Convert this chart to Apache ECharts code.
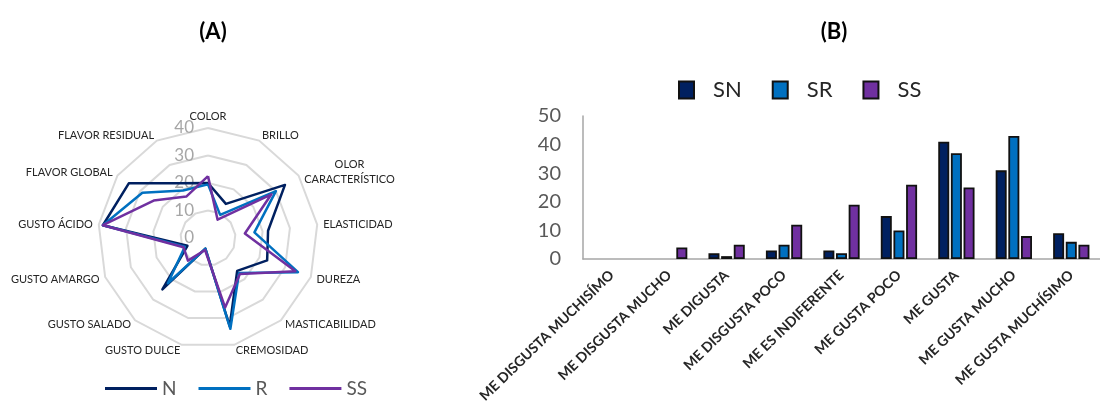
<!DOCTYPE html>
<html><head><meta charset="utf-8">
<script src="https://cdn.jsdelivr.net/npm/echarts@6/dist/echarts.min.js"></script>
<style>html,body{margin:0;padding:0;background:#fff}#c{width:1100px;height:406px}</style>
</head><body><div id="c"></div>
<script>
// ---- Radar (A) data, clockwise from top ----
const radarAttributes = ['COLOR','BRILLO','OLOR\nCARACTERÍSTICO','ELASTICIDAD','DUREZA','MASTICABILIDAD','CREMOSIDAD','GUSTO DULCE','GUSTO SALADO','GUSTO AMARGO','GUSTO ÁCIDO','FLAVOR GLOBAL','FLAVOR RESIDUAL'];
const radarN  = [20, 14, 34, 22, 23, 16, 33, 4, 25, 8, 38.5, 35, 22.5];
const radarR  = [19.5, 9.5, 30, 17, 35, 17, 34, 4, 22, 9, 38.5, 29, 19.5];
const radarSS = [22.5, 7.5, 28, 13.5, 34, 17.5, 26, 4.5, 11, 9.5, 38.5, 24, 17];
const radarTicks = [0, 10, 20, 30, 40];
const radarSeriesNames = ['N','R','SS'];

// ---- Bar (B) data ----
const barCategories = ['ME DISGUSTA MUCHISÍMO','ME DISGUSTA MUCHO','ME DIGUSTA','ME DISGUSTA POCO','ME ES INDIFERENTE','ME GUSTA POCO','ME GUSTA','ME GUSTA MUCHO','ME GUSTA MUCHÍSIMO'];
const barSN = [0, 0, 2, 3, 3, 15, 41, 31, 9];
const barSR = [0, 0, 1, 5, 2, 10, 37, 43, 6];
const barSS = [0, 4, 5, 12, 19, 26, 25, 8, 5];
const barTicks = [0, 10, 20, 30, 40, 50];
const barSeriesNames = ['SN','SR','SS'];

const C1 = '#002060', C2 = '#0070C0', C3 = '#7030A0';
const FONT = 'Lato, "Open Sans", sans-serif';

// ECharts radar runs counter-clockwise; reorder to get clockwise layout
const cw = a => [a[0]].concat(a.slice(1).reverse());
// zero-count bars are not drawn in the reference
const noZero = a => a.map(v => (v === 0 ? null : v));
const rMax = radarTicks[radarTicks.length - 1];
const bMax = barTicks[barTicks.length - 1];
const bStep = barTicks[1] - barTicks[0];
const rStep = radarTicks[1] - radarTicks[0];

const chart = echarts.init(document.getElementById('c'), null, {renderer: 'canvas'});
chart.setOption({
  backgroundColor: '#fff',
  animation: false,
  textStyle: {fontFamily: FONT},
  title: [
    {text: '(A)', left: 208, top: 16, textAlign: 'center', textStyle: {fontSize: 22, fontWeight: 'bold', color: '#000', fontFamily: FONT}},
    {text: '(B)', left: 829, top: 16, textAlign: 'center', textStyle: {fontSize: 22, fontWeight: 'bold', color: '#000', fontFamily: FONT}}
  ],
  legend: [
    {data: radarSeriesNames, left: 100, top: 374, icon: 'rect', itemWidth: 52, itemHeight: 3, itemGap: 22,
     textStyle: {fontSize: 19, color: '#595959', fontFamily: FONT, padding: [0, 0, 0, 0]}},
    {data: barSeriesNames.map((n, i) => i === 2 ? n + ' ' : n), left: 673, top: 74, icon: 'rect', itemWidth: 15, itemHeight: 17, itemGap: 30,
     textStyle: {fontSize: 22, color: '#262626', fontFamily: FONT, padding: [0, 0, 0, 14]}}
  ],
  radar: {
    center: [208, 238], radius: 110, startAngle: 90, shape: 'polygon', splitNumber: 4,
    indicator: cw(radarAttributes).map(n => ({name: n, min: 0, max: rMax})),
    axisName: {color: '#262626', fontSize: 11, fontFamily: FONT,
      formatter: n => n.indexOf('\n') < 0 ? n : n.split('\n').map(l => '{c|' + l + '}').join('\n'),
      rich: {c: {width: 92, align: 'center', fontSize: 11, lineHeight: 15, color: '#262626', fontFamily: FONT}}},
    nameGap: 6,
    splitLine: {lineStyle: {color: '#d9d9d9', width: 2}},
    splitArea: {show: false},
    axisLine: {show: false},
    axisTick: {show: false},
    axisLabel: {show: false}
  },
  polar: {center: [208, 238], radius: 110},
  angleAxis: {show: false, startAngle: 90, min: 0, max: 360, type: 'value'},
  radiusAxis: {type: 'value', min: 0, max: rMax, interval: rStep,
    axisLine: {show: false}, axisTick: {show: false}, splitLine: {show: false},
    axisLabel: {color: '#a6a6a6', fontSize: 17, fontFamily: FONT, margin: 14}},
  grid: {left: 583, top: 116, width: 525, height: 143, containLabel: false},
  xAxis: {type: 'category', data: barCategories,
    axisLine: {lineStyle: {color: '#a6a6a6', width: 1.5}}, axisTick: {show: false},
    axisLabel: {interval: 0, rotate: 44, fontSize: 14, fontWeight: 'bold', color: '#262626', fontFamily: FONT, margin: 14}},
  yAxis: {type: 'value', min: 0, max: bMax, interval: bStep,
    axisLine: {show: true, lineStyle: {color: '#a6a6a6', width: 1.5}}, axisTick: {show: false}, splitLine: {show: false},
    axisLabel: {fontSize: 20, color: '#595959', fontFamily: FONT, margin: 22}},
  series: [
    {type: 'radar', symbol: 'none', z: 3,
     data: [
       {name: radarSeriesNames[0], value: cw(radarN), lineStyle: {color: C1, width: 2.5}, itemStyle: {color: C1}},
       {name: radarSeriesNames[1], value: cw(radarR), lineStyle: {color: C2, width: 2.5}, itemStyle: {color: C2}},
       {name: radarSeriesNames[2], value: cw(radarSS), lineStyle: {color: C3, width: 2.5}, itemStyle: {color: C3}}
     ]},
    {type: 'bar', name: barSeriesNames[0], data: noZero(barSN), barWidth: 11, barGap: '15%',
     itemStyle: {color: C1, borderColor: '#111', borderWidth: 1.8}},
    {type: 'bar', name: barSeriesNames[1], data: noZero(barSR), barWidth: 11, barGap: '15%',
     itemStyle: {color: C2, borderColor: '#111', borderWidth: 1.8}},
    {type: 'bar', name: barSeriesNames[2] + ' ', data: noZero(barSS), barWidth: 11, barGap: '15%',
     itemStyle: {color: C3, borderColor: '#111', borderWidth: 1.8}}
  ]
});
</script></body></html>
